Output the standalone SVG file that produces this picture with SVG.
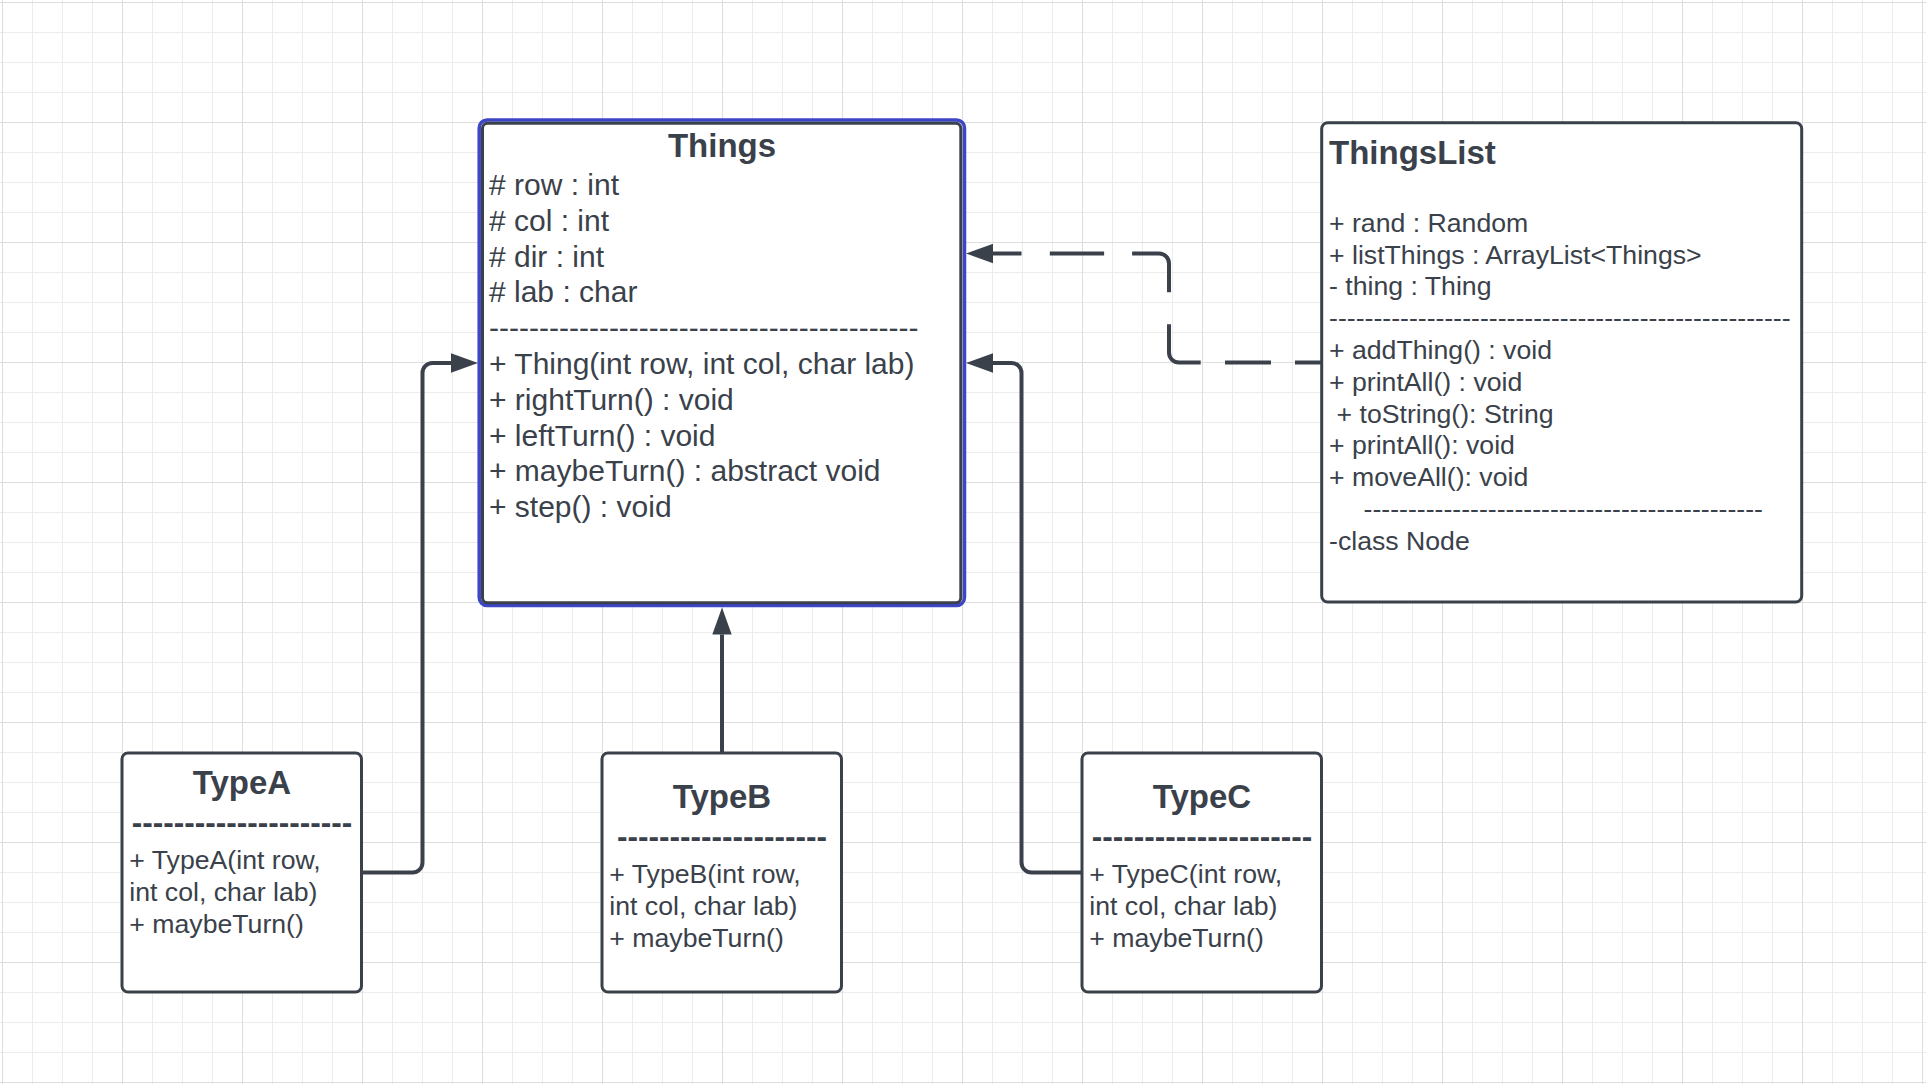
<svg xmlns="http://www.w3.org/2000/svg" width="1926" height="1084" viewBox="0 0 1926 1084">
  <defs>
    <pattern id="grid" x="2" y="2" width="120" height="120" patternUnits="userSpaceOnUse">
      <rect x="30" y="0" width="1" height="120" fill="#ececec"/>
      <rect x="60" y="0" width="1" height="120" fill="#ececec"/>
      <rect x="90" y="0" width="1" height="120" fill="#ececec"/>
      <rect x="0" y="30" width="120" height="1" fill="#ececec"/>
      <rect x="0" y="60" width="120" height="1" fill="#ececec"/>
      <rect x="0" y="90" width="120" height="1" fill="#ececec"/>
      <rect x="0" y="0" width="1" height="120" fill="#dedede"/>
      <rect x="0" y="0" width="120" height="1" fill="#dedede"/>
    </pattern>
    <marker id="arrow" viewBox="0 -10 27 20" refX="0" refY="0" markerWidth="27" markerHeight="20" markerUnits="userSpaceOnUse" orient="auto">
      <path d="M0,-9.7 L27,0 L0,9.7 Z" fill="#3a414a"/>
    </marker>
    <style>
      .box { fill: #ffffff; stroke: #3a414a; stroke-width: 3; }
      .sel { fill: none; stroke: #3c46c6; stroke-width: 3.5; }
      .t { font-family: "Liberation Sans", Arial, sans-serif; fill: #3a414a; }
      .title { font-weight: bold; font-size: 33px; }
      .bdash { font-weight: bold; font-size: 31.5px; }
      .f30 { font-size: 30px; }
      .f27 { font-size: 26.67px; }
      .mid { text-anchor: middle; }
      .conn { fill: none; stroke: #3a414a; stroke-width: 4; }
    </style>
  </defs>

  <rect x="0" y="0" width="1926" height="1084" fill="#ffffff"/>
  <rect x="0" y="0" width="1926" height="1084" fill="url(#grid)"/>

  <g id="connectors">
    <path class="conn" marker-end="url(#arrow)" d="M361,872.5 H412.5 A10,10 0 0 0 422.5,862.5 V373 A10,10 0 0 1 432.5,363 H451"/>
    <path class="conn" marker-end="url(#arrow)" d="M722,753 V634.5"/>
    <path class="conn" marker-end="url(#arrow)" d="M1082,872.5 H1031.5 A10,10 0 0 1 1021.5,862.5 V373 A10,10 0 0 0 1011.5,363 H993"/>
    <path class="conn" marker-end="url(#arrow)" stroke-dasharray="27 24 46 24.3 65.6 32 71.2 28 54.3 28.3 40" d="M1322,362.5 H1179 A10,10 0 0 1 1169,352.5 V263.5 A10,10 0 0 0 1159,253.5 H993"/>
  </g>

  <g id="things">
    <rect class="sel" x="479.2" y="120" width="485.3" height="485.5" rx="8"/>
    <rect class="box" x="482.5" y="123.3" width="478.3" height="479.5" rx="5"/>
    <text class="t title mid" x="722" y="157">Things</text>
    <text class="t f30" x="489" y="195"># row : int</text>
    <text class="t f30" x="489" y="230.8"># col : int</text>
    <text class="t f30" x="489" y="266.6"># dir : int</text>
    <text class="t f30" x="489" y="302.4"># lab : char</text>
    <text class="t f30" x="489" y="338.2">-------------------------------------------</text>
    <text class="t f30" x="489" y="374">+ Thing(int row, int col, char lab)</text>
    <text class="t f30" x="489" y="409.8">+ rightTurn() : void</text>
    <text class="t f30" x="489" y="445.6">+ leftTurn() : void</text>
    <text class="t f30" x="489" y="481.4">+ maybeTurn() : abstract void</text>
    <text class="t f30" x="489" y="517.2">+ step() : void</text>
  </g>

  <g id="thingslist">
    <rect class="box" x="1321.7" y="122.8" width="480" height="479.2" rx="6"/>
    <text class="t title" x="1329" y="164">ThingsList</text>
    <text class="t f27" x="1329" y="231.7">+ rand : Random</text>
    <text class="t f27" x="1329" y="263.5">+ listThings : ArrayList&lt;Things&gt;</text>
    <text class="t f27" x="1329" y="295.3">- thing : Thing</text>
    <text class="t f27" x="1329" y="327.1">----------------------------------------------------</text>
    <text class="t f27" x="1329" y="358.9">+ addThing() : void</text>
    <text class="t f27" x="1329" y="390.7">+ printAll() : void</text>
    <text class="t f27" x="1336.5" y="422.5">+ toString(): String</text>
    <text class="t f27" x="1329" y="454.3">+ printAll(): void</text>
    <text class="t f27" x="1329" y="486.1">+ moveAll(): void</text>
    <text class="t f27" x="1363.5" y="517.9">---------------------------------------------</text>
    <text class="t f27" x="1329" y="549.7">-class Node</text>
  </g>

  <g id="typeA">
    <rect class="box" x="122" y="753" width="239.5" height="239" rx="6"/>
    <text class="t title mid" x="242" y="794">TypeA</text>
    <text class="t bdash mid" x="242" y="833">---------------------</text>
    <text class="t f27" x="129.3" y="868.5">+ TypeA(int row,</text>
    <text class="t f27" x="129.3" y="900.5">int col, char lab)</text>
    <text class="t f27" x="129.3" y="932.5">+ maybeTurn()</text>
  </g>

  <g id="typeB">
    <rect class="box" x="602" y="753" width="239.5" height="239" rx="6"/>
    <text class="t title mid" x="722" y="808.3">TypeB</text>
    <text class="t bdash mid" x="722" y="847">--------------------</text>
    <text class="t f27" x="609.3" y="883">+ TypeB(int row,</text>
    <text class="t f27" x="609.3" y="915">int col, char lab)</text>
    <text class="t f27" x="609.3" y="947">+ maybeTurn()</text>
  </g>

  <g id="typeC">
    <rect class="box" x="1082" y="753" width="239.5" height="239" rx="6"/>
    <text class="t title mid" x="1202" y="808.3">TypeC</text>
    <text class="t bdash mid" x="1202" y="847">---------------------</text>
    <text class="t f27" x="1089.3" y="883">+ TypeC(int row,</text>
    <text class="t f27" x="1089.3" y="915">int col, char lab)</text>
    <text class="t f27" x="1089.3" y="947">+ maybeTurn()</text>
  </g>
</svg>
